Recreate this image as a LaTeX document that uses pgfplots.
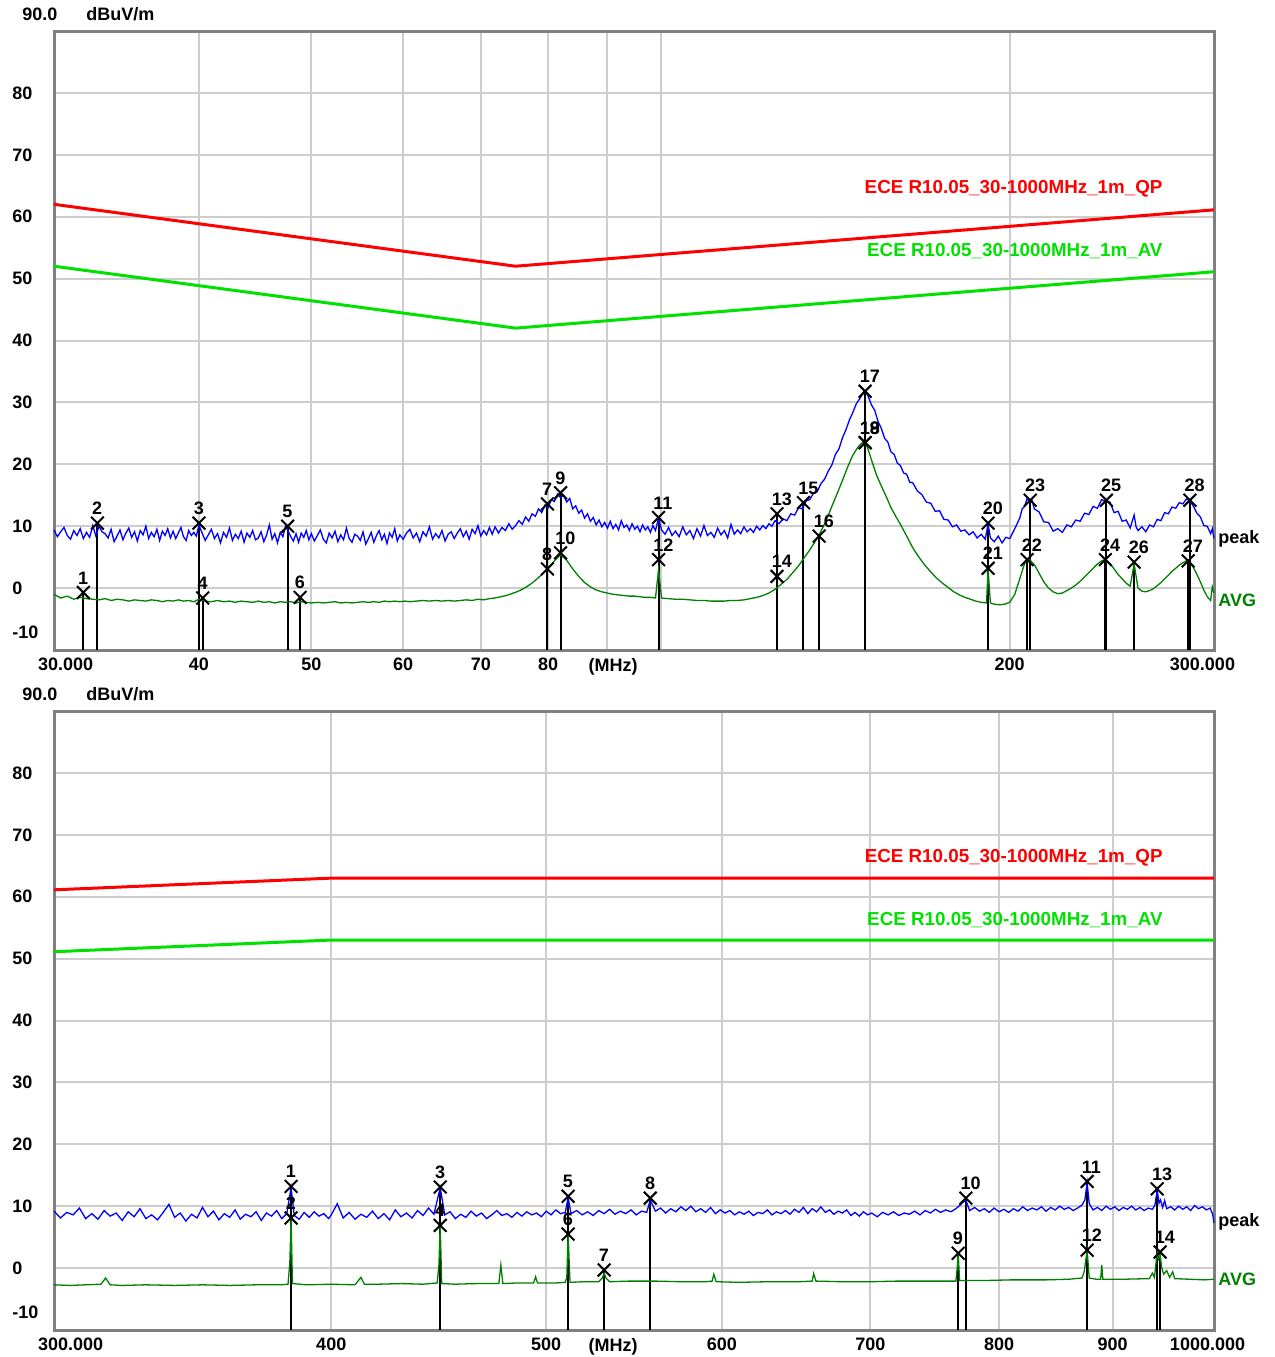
\documentclass[border=0pt]{standalone}
\usepackage{pgfplots}
\pgfplotsset{compat=1.18}
\usepackage{pgfplotstable}
\usepackage{fontspec}
\setmainfont{Liberation Sans}

\definecolor{qpred}{RGB}{255,0,0}
\definecolor{avlim}{RGB}{0,225,0}
\definecolor{avgtr}{RGB}{0,128,0}
\definecolor{pkblue}{RGB}{0,0,255}
\definecolor{framec}{RGB}{128,128,128}
\definecolor{gridc}{RGB}{205,205,205}

\newcommand{\lab}{\bfseries\fontsize{9}{10}\selectfont}
\newcommand{\limlab}{\bfseries\fontsize{9.4}{10}\selectfont}

% top panel, peak trace
\pgfplotstableread{
f v
30.0 9.4
30.2 8.3
30.4 9.1
30.6 9.8
30.8 8.5
31.0 7.9
31.2 9.3
31.4 8.5
31.6 9.6
31.8 8.0
32.0 9.0
32.2 8.2
32.4 10.1
32.6 8.4
32.8 10.0
33.0 9.1
33.2 8.8
33.4 8.1
33.6 9.5
33.8 7.5
34.0 8.4
34.2 9.4
34.4 7.8
34.6 8.9
34.8 9.7
35.0 8.2
35.2 9.1
35.4 7.6
35.6 9.3
35.8 8.6
36.0 10.0
36.2 8.0
36.4 9.0
36.6 8.3
36.8 9.5
37.0 7.7
37.2 9.2
37.4 8.5
37.6 9.6
37.8 8.1
38.0 9.2
38.2 8.0
38.4 8.9
38.6 9.8
38.8 8.3
39.0 7.7
39.2 9.3
39.4 8.5
39.6 9.0
39.8 8.4
40.0 10.2
40.25 8.9
40.5 7.7
40.75 8.6
41.0 9.5
41.25 8.0
41.5 8.8
41.75 7.3
42.0 9.0
42.25 8.2
42.5 9.7
42.75 7.7
43.0 8.7
43.25 8.0
43.5 9.2
43.75 7.4
44.0 8.9
44.25 8.2
44.5 9.3
44.75 7.8
45.0 8.1
45.25 9.1
45.5 7.5
45.75 8.6
46.0 10.2
46.25 7.9
46.5 8.8
46.75 7.3
47.0 9.0
47.25 8.3
47.5 10.0
47.75 9.2
48.0 8.3
48.25 7.6
48.5 8.8
48.75 7.4
49.0 8.9
49.25 8.2
49.5 9.3
49.75 7.8
50.0 8.8
50.3 7.6
50.6 8.5
50.9 9.4
51.2 7.9
51.5 7.3
51.8 8.9
52.1 8.1
52.4 9.2
52.7 7.5
53.0 8.6
53.3 7.8
53.6 9.7
53.9 8.0
54.2 7.4
54.5 8.7
54.8 8.4
55.1 7.7
55.4 9.1
55.7 7.1
56.0 8.0
56.3 9.0
56.6 7.4
56.9 8.5
57.2 9.3
57.5 7.8
57.8 8.7
58.1 7.2
58.4 8.9
58.7 8.2
59.0 9.6
59.3 7.6
59.6 8.6
60.0 7.9
60.4 8.9
60.8 9.5
61.2 8.1
61.6 8.9
62.0 7.5
62.4 9.1
62.8 8.4
63.2 9.9
63.6 7.9
64.0 8.8
64.4 8.1
64.8 9.3
65.2 7.6
65.6 8.7
66.0 9.1
66.4 8.0
66.8 8.9
67.2 9.6
67.6 8.3
68.0 9.2
68.4 7.9
68.8 9.5
69.2 8.8
69.6 10.1
70.0 8.4
70.4 9.3
70.8 8.6
71.2 9.8
71.6 8.7
72.0 9.9
72.5 8.9
73.0 9.8
73.5 9.3
74.0 10.4
74.5 9.5
75.0 10.1
75.5 10.9
76.0 10.3
76.5 11.5
77.0 10.8
77.5 12.0
78.0 11.6
78.5 12.8
79.0 12.2
79.5 13.4
80.0 13.0
80.5 14.3
81.0 14.0
81.5 15.2
82.0 14.6
82.5 15.0
83.0 13.9
83.5 14.5
84.0 12.8
84.5 13.3
85.0 12.1
85.5 12.6
86.0 11.3
86.5 12.0
87.0 10.8
87.5 11.4
88.0 10.2
88.5 11.0
89.0 9.9
89.5 10.6
90.0 9.7
90.5 10.8
91.0 9.6
91.5 10.3
92.0 9.4
92.5 10.9
93.0 9.8
93.5 10.2
94.0 9.3
94.5 10.4
95.0 9.5
95.5 10.0
96.0 9.1
96.5 10.2
97.0 9.4
97.5 9.9
98.0 9.0
98.5 10.1
99.0 9.3
99.6 11.3
100.2 9.4
100.9 8.7
101.6 9.8
102.3 8.5
103.0 9.2
103.75 8.3
104.5 9.9
105.25 8.6
106.0 9.3
106.75 8.0
107.5 9.6
108.25 8.4
109.0 10.1
109.75 8.5
110.5 9.0
111.25 8.2
112.0 9.7
112.75 8.6
113.5 9.3
114.25 8.1
115.0 10.3
115.75 8.7
116.5 9.4
117.25 8.8
118.0 9.9
118.75 9.1
119.5 9.6
120.25 9.0
121.0 10.0
121.75 9.4
122.5 10.1
123.25 9.6
124.0 10.4
124.75 10.0
125.5 10.9
126.5 10.4
127.5 11.2
128.5 10.9
129.5 12.0
130.5 11.8
131.5 13.0
132.5 12.8
133.5 14.1
134.5 14.3
135.5 15.4
136.5 15.6
137.5 16.9
138.5 17.6
139.5 18.9
140.5 19.9
141.5 21.6
142.5 22.5
143.5 24.3
144.5 25.6
145.5 27.2
146.5 28.4
147.5 29.8
148.5 30.6
149.5 31.6
150.0 31.9
151.0 31.0
152.0 29.6
153.0 28.7
154.0 26.9
155.0 25.8
156.0 24.2
157.0 23.6
158.0 22.0
159.0 21.6
160.0 20.2
161.0 19.8
162.0 18.6
163.0 18.4
164.0 17.1
165.0 17.0
166.5 15.7
168.0 15.1
169.5 13.9
171.0 13.7
172.5 12.4
174.0 12.5
175.5 11.1
177.0 11.0
178.5 9.9
180.0 10.2
181.5 9.2
183.0 9.4
184.5 8.6
186.0 9.1
187.5 8.1
189.0 8.7
190.5 7.9
191.6 10.3
192.5 8.1
194.0 7.5
195.5 8.4
197.0 7.3
198.5 8.2
200.0 8.0
202.0 9.6
204.0 11.3
205.0 12.8
206.0 13.2
207.0 14.5
208.0 13.9
209.0 14.2
210.0 12.8
212.0 12.3
214.0 10.7
216.0 10.6
218.0 9.2
220.0 9.6
222.0 9.0
224.0 10.2
226.0 9.9
228.0 11.0
230.0 10.8
232.0 12.1
234.0 11.9
236.0 13.2
238.0 12.9
240.0 14.3
242.0 14.0
244.0 13.9
246.0 12.2
248.0 12.4
250.0 10.8
252.0 11.0
254.0 9.7
256.0 11.8
257.0 9.9
258.0 9.3
260.0 9.9
262.0 9.1
264.0 10.2
266.0 9.9
268.0 11.1
270.0 10.9
272.0 12.2
274.0 12.0
276.0 13.1
278.0 12.9
280.0 13.8
282.0 13.6
284.0 14.4
286.0 14.1
288.0 13.2
290.0 12.1
292.0 11.5
294.0 10.1
296.0 10.0
298.0 8.8
299.0 9.6
300.0 8.0
}\toppk

% top panel, AVG trace
\pgfplotstableread{
f v
30.0 -1.0
30.4 -1.6
30.8 -1.3
31.2 -1.8
31.6 -1.5
32.0 -1.7
32.4 -1.8
32.8 -1.9
33.2 -1.7
33.6 -2.0
34.0 -1.8
34.4 -1.9
34.8 -2.1
35.2 -1.9
35.6 -2.0
36.0 -2.1
36.4 -1.9
36.8 -2.0
37.2 -2.2
37.6 -2.0
38.0 -2.1
38.4 -1.9
38.8 -2.1
39.2 -2.0
39.6 -2.2
40.0 -1.8
40.5 -2.1
41.0 -2.2
41.5 -2.0
42.0 -2.2
42.5 -2.1
43.0 -2.3
43.5 -2.1
44.0 -2.2
44.5 -2.3
45.0 -2.1
45.5 -2.3
46.0 -2.2
46.5 -2.4
47.0 -2.2
47.5 -2.3
48.0 -2.2
48.5 -2.4
49.0 -2.2
49.5 -2.3
50.0 -2.4
50.6 -2.3
51.2 -2.4
51.8 -2.3
52.4 -2.2
53.0 -2.4
53.6 -2.3
54.2 -2.4
54.8 -2.3
55.4 -2.2
56.0 -2.3
56.6 -2.2
57.2 -2.3
57.8 -2.1
58.4 -2.2
59.0 -2.1
59.6 -2.2
60.2 -2.1
60.8 -2.2
61.6 -2.1
62.4 -2.0
63.2 -2.1
64.0 -2.0
64.8 -2.1
65.6 -2.0
66.4 -2.1
67.2 -2.0
68.0 -1.9
68.8 -2.0
69.6 -1.8
70.4 -1.9
71.2 -1.7
72.0 -1.6
72.8 -1.4
73.6 -1.2
74.4 -0.9
75.2 -0.6
76.0 -0.2
76.8 0.3
77.6 0.9
78.4 1.6
79.2 2.4
80.0 3.2
81.0 4.4
82.0 5.4
83.0 4.5
84.0 3.1
85.0 1.9
86.0 0.9
87.0 0.2
88.0 -0.3
89.0 -0.6
90.0 -0.8
91.0 -1.0
92.0 -1.1
93.0 -1.2
94.0 -1.3
95.0 -1.3
96.0 -1.4
97.0 -1.5
98.0 -1.5
99.0 -1.6
99.6 3.0
100.2 -1.6
101.5 -1.7
103.0 -1.8
104.5 -1.8
106.0 -1.9
107.5 -2.0
109.0 -2.0
110.5 -2.1
112.0 -2.1
113.5 -2.1
115.0 -2.0
116.5 -2.0
118.0 -1.9
119.5 -1.7
121.0 -1.5
122.5 -1.2
124.0 -0.8
125.5 -0.2
127.0 0.6
128.5 1.4
130.0 2.5
131.5 3.6
133.0 4.9
134.5 6.2
136.0 7.6
137.5 9.2
139.0 11.0
140.5 13.2
142.0 15.3
143.5 17.4
145.0 19.6
146.5 21.5
148.0 22.8
149.0 23.4
150.0 23.7
151.0 22.4
152.0 20.7
153.5 18.3
155.0 16.5
156.5 14.8
158.0 13.0
159.5 11.6
161.0 10.3
163.0 8.4
165.0 6.5
167.0 5.0
169.0 3.7
171.0 2.6
173.0 1.6
175.0 0.8
177.0 0.1
179.0 -0.6
181.0 -1.1
183.0 -1.5
185.0 -1.8
187.0 -2.1
189.0 -2.3
191.0 -2.4
191.6 3.0
192.5 -2.4
194.0 -2.6
196.0 -2.7
198.0 -2.6
200.0 -2.3
202.0 -1.0
204.0 1.5
206.0 4.0
208.0 4.6
210.0 3.8
212.0 2.4
214.0 1.0
216.0 0.0
218.0 -0.6
220.0 -0.9
222.0 -0.8
224.0 -0.4
226.0 0.0
228.0 0.5
230.0 1.1
232.0 1.8
234.0 2.5
236.0 3.2
238.0 3.9
240.0 4.4
242.0 4.6
244.0 4.0
246.0 3.1
248.0 2.2
250.0 1.5
252.0 0.8
254.0 0.3
256.0 3.9
258.0 0.0
260.0 -0.5
262.0 -0.6
264.0 -0.4
266.0 -0.1
268.0 0.4
270.0 0.9
272.0 1.5
274.0 2.1
276.0 2.7
278.0 3.2
280.0 3.7
282.0 4.1
284.0 4.4
286.0 4.2
288.0 3.3
290.0 2.2
292.0 1.0
294.0 -0.3
296.0 -1.4
298.0 -2.0
299.0 0.2
300.0 -0.8
}\topav

% bottom panel, peak trace
\pgfplotstableread{
f v
300 9.2
302 8.1
304 9.0
306 8.6
308 9.7
310 8.0
312 8.8
314 7.9
316 9.3
318 8.4
320 8.9
322 7.7
324 9.1
326 8.3
328 9.6
330 8.0
332 8.6
334 7.8
336 9.0
338 10.3
340 8.2
342 8.9
344 7.6
346 8.7
348 8.1
350 9.8
352 8.3
354 9.2
356 7.8
358 8.8
360 8.2
362 9.4
364 7.9
366 8.7
368 8.3
370 9.1
372 7.7
374 8.9
376 8.4
378 9.3
380 8.0
382 8.8
383.7 13.0
385 8.5
387 7.9
389 9.0
391 8.2
393 9.1
395 8.4
397 8.8
399 8.0
400 8.6
402.5 10.4
405 8.1
407.5 9.0
410 7.9
412.5 8.7
415 8.2
417.5 9.2
420 8.0
422.5 8.8
425 7.8
427.5 9.4
430 8.3
432.5 8.9
435 8.1
437.5 9.3
440 8.5
442.5 9.7
445 8.7
447.9 13.0
450 8.6
452.5 9.1
455 8.0
457.5 8.7
460 8.2
462.5 9.2
465 8.4
467.5 8.9
470 8.0
472.5 8.6
475 9.3
477.5 8.5
480 8.8
482.5 8.2
485 9.0
487.5 8.4
490 9.1
492.5 8.6
495 8.9
497.5 8.3
500 9.2
502.5 8.6
505 9.4
507.5 8.8
510 9.0
511.5 11.4
513 8.8
516 9.3
519 8.6
522 9.1
525 8.5
528 9.3
531 8.8
534 9.5
537 8.7
540 9.2
543 8.8
546 9.4
549 8.6
552 9.2
555 9.0
557 11.0
560 9.2
563 9.7
566 8.9
569 9.6
572 9.1
575 9.9
578 9.3
581 10.0
584 9.1
587 9.6
590 9.0
593 9.8
596 8.8
599 9.4
602 8.9
605 9.3
608 8.6
611 9.1
614 8.7
617 9.2
620 8.5
623 9.0
626 8.8
629 9.4
632 8.6
635 9.1
638 8.8
641 9.3
644 8.7
647 9.5
650 9.0
653 9.8
656 8.8
659 9.6
662 9.1
665 9.9
668 9.0
671 9.4
674 8.7
677 9.2
680 8.9
683 9.4
686 8.5
689 9.0
692 8.4
695 9.1
698 8.6
701 8.9
705 8.3
709 9.0
713 8.6
717 9.1
721 8.5
725 8.9
729 8.7
733 9.2
737 8.6
741 9.3
745 8.9
749 9.5
753 9.0
757 9.4
761 9.1
765 9.6
768 10.1
770 10.5
773 11.0
776 9.3
780 9.8
784 9.2
788 9.6
792 9.0
796 9.7
800 9.1
804 9.5
808 9.0
812 9.6
816 9.2
820 9.9
824 9.3
828 9.7
832 9.4
836 9.9
840 9.2
844 9.8
848 9.4
852 10.0
856 9.5
860 9.8
864 9.3
868 9.7
872 10.2
874.5 11.0
876.6 13.8
878.5 10.4
882 9.4
886 9.8
890 9.3
894 10.0
898 9.5
902 9.9
906 9.3
910 9.8
914 9.5
918 10.0
922 9.4
926 9.8
930 9.3
934 9.7
938 9.5
940.5 10.2
942.7 12.6
944.5 10.5
946 11.0
948 9.8
950 10.9
952 9.6
956 9.9
960 9.4
964 10.0
968 9.5
972 9.9
976 9.3
980 10.1
984 9.6
988 9.9
992 9.4
996 9.7
998.5 8.7
1000 7.3
}\botpk

% bottom panel, AVG trace
\pgfplotstableread{
f v
300 -2.7
305 -2.8
310 -2.7
315 -2.6
316.5 -1.6
318 -2.7
322 -2.8
330 -2.7
340 -2.8
350 -2.7
360 -2.8
370 -2.7
380 -2.7
382.5 -2.6
383.2 1.0
383.7 8.0
384.3 -2.5
390 -2.7
400 -2.6
410 -2.7
412.5 -1.5
414 -2.6
420 -2.6
430 -2.5
440 -2.6
446.5 -2.4
447.3 0.5
447.9 7.0
448.6 -2.5
455 -2.6
465 -2.5
476 -2.5
477 0.5
478 -2.5
485 -2.4
493.5 -2.4
494.5 -1.4
495.5 -2.4
505 -2.4
510 -2.3
510.8 -1.5
511.5 5.5
512.5 -2.3
520 -2.2
528 -2.2
530 -1.6
531 -0.8
532 -1.6
534 -2.2
545 -2.1
560 -2.1
575 -2.2
590 -2.2
594 -2.1
595 -1.0
596.5 -2.2
610 -2.3
630 -2.2
650 -2.2
659 -2.1
660 -0.9
661.5 -2.1
680 -2.2
700 -2.2
720 -2.1
740 -2.1
765 -2.1
766 -0.2
766.9 2.4
768 -2.0
790 -2.0
810 -1.9
840 -1.9
860 -1.8
872 -1.6
874 -0.5
876.6 2.9
878.5 -1.6
885 -1.8
889 -1.8
890 0.5
891 -1.8
910 -1.8
935 -1.7
938 -0.8
940 -1.5
942.7 2.6
944 1.5
945.6 2.2
947 0.2
949 -1.0
952 -0.4
955 -1.5
958 -0.6
960 -1.7
975 -1.8
990 -1.9
1000 -1.8
}\botav

\newcommand{\mline}[2]{\addplot[black, line width=1pt, forget plot] coordinates {(#1,-10) (#1,#2)};}
\newcommand{\mx}[3]{\addplot[black, line width=1pt, only marks, mark=x, mark size=4.5pt, forget plot] coordinates {(#1,#2)};
  \node[anchor=south west, inner sep=0pt, font=\lab, xshift=-2.8pt, yshift=4pt] at (axis cs:#1,#2) {#3};}

\begin{document}
\begin{tikzpicture}
\path[use as bounding box] (0,0) rectangle (637.5pt,-678.5pt);

% ---------------- top panel ----------------
\node[anchor=west, inner sep=0pt, font=\lab] at (11pt,-7pt) {90.0};
\node[anchor=west, inner sep=0pt, font=\lab] at (43pt,-7pt) {dBuV/m};
\begin{axis}[xmode=log, 
  scale only axis, width=580pt, height=309.5pt,
  at={(27pt,-15.5pt)}, anchor=north west,
  xmin=30, xmax=300, ymin=-10, ymax=90,
  ytick={0,10,20,30,40,50,60,70,80},
  yticklabels={0,10,20,30,40,50,60,70,80},
  xtick={30,40,50,60,70,80,90,100,200,300},
  xticklabels={\makebox[0pt][l]{\hspace{-8pt}30.000},40,50,60,70,80,{},{},200,\makebox[0pt][r]{300.000\hspace{-10.5pt}}},
  minor xtick={}, minor ytick={},
  grid=major, major grid style={gridc, line width=1pt},
  axis line style={framec, line width=1.5pt},
  major tick length=0pt, minor tick length=0pt,
  tick label style={font=\lab},
  yticklabel style={anchor=west, inner sep=0pt, xshift=-21pt},
  xticklabel style={anchor=north, inner sep=0pt, yshift=-4pt},
  clip=false]
\mline{31.8}{-0.7}
\mline{32.7}{10.5}
\mline{40.0}{10.5}
\mline{40.3}{-1.6}
\mline{47.7}{10.0}
\mline{48.9}{-1.5}
\mline{79.9}{13.6}
\mline{82.0}{15.4}
\mline{99.6}{11.4}
\mline{126.0}{12.0}
\mline{132.8}{13.8}
\mline{137.0}{8.4}
\mline{150.1}{31.8}
\mline{191.6}{10.5}
\mline{207.0}{4.6}
\mline{208.3}{14.2}
\mline{241.8}{4.6}
\mline{242.3}{14.2}
\mline{256.0}{4.2}
\mline{285.0}{4.4}
\mline{286.0}{14.2}
\addplot[qpred, line width=1.5pt] coordinates {(30,62) (75,52) (300,61.11)};
\addplot[avlim, line width=1.5pt] coordinates {(30,52) (75,42) (300,51.11)};
\addplot[pkblue, line width=0.65pt] table[x=f, y=v] {\toppk};
\addplot[avgtr, line width=0.65pt] table[x=f, y=v] {\topav};
\mx{31.8}{-0.7}{1}
\mx{32.7}{10.5}{2}
\mx{40.0}{10.5}{3}
\mx{40.3}{-1.6}{4}
\mx{47.7}{10.0}{5}
\mx{48.9}{-1.5}{6}
\mx{79.9}{13.6}{7}
\mx{79.9}{3.1}{8}
\mx{82.0}{15.4}{9}
\mx{82.0}{5.7}{10}
\mx{99.6}{11.4}{11}
\mx{99.6}{4.6}{12}
\mx{126.0}{12.0}{13}
\mx{126.0}{1.9}{14}
\mx{132.8}{13.8}{15}
\mx{137.0}{8.4}{16}
\mx{150.1}{31.8}{17}
\mx{150.1}{23.5}{18}
\mx{150.1}{23.5}{19}
\mx{191.6}{10.5}{20}
\mx{191.6}{3.2}{21}
\mx{207.0}{4.6}{22}
\mx{208.3}{14.2}{23}
\mx{241.8}{4.6}{24}
\mx{242.3}{14.2}{25}
\mx{256.0}{4.2}{26}
\mx{285.0}{4.4}{27}
\mx{286.0}{14.2}{28}
\node[anchor=east, inner sep=0pt, font=\limlab, text=qpred] at (rel axis cs:0.956,0.745) {ECE R10.05\_30-1000MHz\_1m\_QP};
\node[anchor=east, inner sep=0pt, font=\limlab, text=avlim] at (rel axis cs:0.956,0.645) {ECE R10.05\_30-1000MHz\_1m\_AV};
\node[anchor=west, inner sep=0pt, font=\lab, xshift=2pt] at (axis cs:300,8.0) {peak};
\node[anchor=west, inner sep=0pt, font=\lab, text=avgtr, xshift=2pt] at (axis cs:300,-1.9) {AVG};
\node[anchor=north, inner sep=0pt, font=\lab, yshift=-4pt] at (rel axis cs:0.4819,0) {(MHz)};
\node[anchor=west, inner sep=0pt, font=\lab, xshift=-21pt, yshift=9pt] at (rel axis cs:0,0) {-10};
\end{axis}

% ---------------- bottom panel ----------------
\node[anchor=west, inner sep=0pt, font=\lab] at (11pt,-347pt) {90.0};
\node[anchor=west, inner sep=0pt, font=\lab] at (43pt,-347pt) {dBuV/m};
\begin{axis}[xmode=log,
  scale only axis, width=580pt, height=309.5pt,
  at={(27pt,-355.5pt)}, anchor=north west,
  xmin=300, xmax=1000, ymin=-10, ymax=90,
  ytick={0,10,20,30,40,50,60,70,80},
  yticklabels={0,10,20,30,40,50,60,70,80},
  xtick={300,400,500,600,700,800,900,1000},
  xticklabels={\makebox[0pt][l]{\hspace{-8pt}300.000},400,500,600,700,800,900,\makebox[0pt][r]{1000.000\hspace{-15.5pt}}},
  minor xtick={}, minor ytick={},
  grid=major, major grid style={gridc, line width=1pt},
  axis line style={framec, line width=1.5pt},
  major tick length=0pt, minor tick length=0pt,
  tick label style={font=\lab},
  yticklabel style={anchor=west, inner sep=0pt, xshift=-21pt},
  xticklabel style={anchor=north, inner sep=0pt, yshift=-4pt},
  clip=false]
\mline{383.7}{13.2}
\mline{447.9}{13.1}
\mline{511.5}{11.6}
\mline{531.0}{-0.3}
\mline{557.0}{11.3}
\mline{766.9}{2.4}
\mline{773.0}{11.3}
\mline{876.6}{14.0}
\mline{942.7}{12.8}
\mline{945.6}{2.6}
\addplot[qpred, line width=1.5pt] coordinates {(300,61.11) (400,63) (1000,63)};
\addplot[avlim, line width=1.5pt] coordinates {(300,51.11) (400,53) (1000,53)};
\addplot[pkblue, line width=0.65pt] table[x=f, y=v] {\botpk};
\addplot[avgtr, line width=0.65pt] table[x=f, y=v] {\botav};
\mx{383.7}{13.2}{1}
\mx{383.7}{8.1}{2}
\mx{447.9}{13.1}{3}
\mx{447.9}{6.9}{4}
\mx{511.5}{11.6}{5}
\mx{511.5}{5.5}{6}
\mx{531.0}{-0.3}{7}
\mx{557.0}{11.3}{8}
\mx{766.9}{2.4}{9}
\mx{773.0}{11.3}{10}
\mx{876.6}{14.0}{11}
\mx{876.6}{2.9}{12}
\mx{942.7}{12.8}{13}
\mx{945.6}{2.6}{14}
\node[anchor=east, inner sep=0pt, font=\limlab, text=qpred] at (rel axis cs:0.956,0.763) {ECE R10.05\_30-1000MHz\_1m\_QP};
\node[anchor=east, inner sep=0pt, font=\limlab, text=avlim] at (rel axis cs:0.956,0.663) {ECE R10.05\_30-1000MHz\_1m\_AV};
\node[anchor=west, inner sep=0pt, font=\lab, xshift=2pt] at (axis cs:1000,7.4) {peak};
\node[anchor=west, inner sep=0pt, font=\lab, text=avgtr, xshift=2pt] at (axis cs:1000,-1.8) {AVG};
\node[anchor=north, inner sep=0pt, font=\lab, yshift=-4pt] at (rel axis cs:0.4819,0) {(MHz)};
\node[anchor=west, inner sep=0pt, font=\lab, xshift=-21pt, yshift=9pt] at (rel axis cs:0,0) {-10};
\end{axis}
\end{tikzpicture}
\end{document}
